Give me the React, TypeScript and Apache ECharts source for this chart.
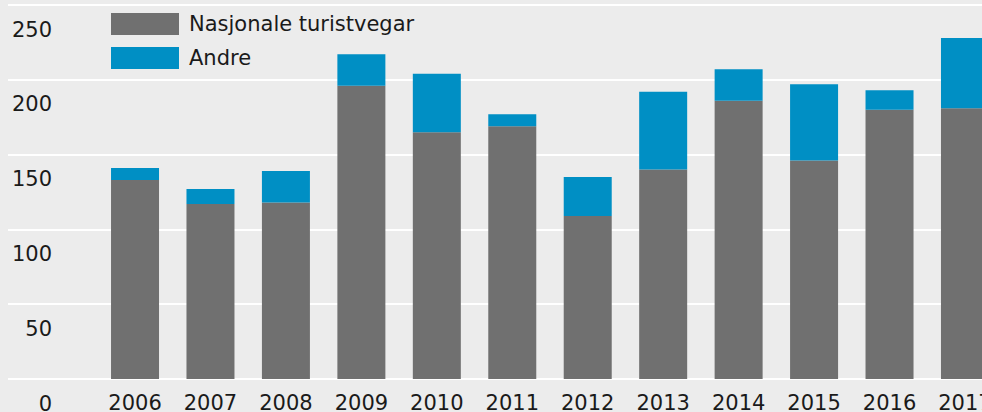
import React, { useEffect, useRef } from "react";
import * as echarts from "echarts";

const years = ["2006", "2007", "2008", "2009", "2010", "2011", "2012", "2013", "2014", "2015", "2016", "2017"];
const nasjonale = [133, 117, 118, 196, 165, 169, 109, 140, 186, 146, 180, 181];
const andre = [8, 10, 21, 21, 39, 8, 26, 52, 21, 51, 13, 47];
const yTicks = [0, 50, 100, 150, 200, 250];

const FONT = "DejaVu Sans";
const TEXT = "#1a1a1a";

export default function App() {
  const ref = useRef<HTMLDivElement>(null);
  useEffect(() => {
    if (!ref.current) return;
    const chart = echarts.init(ref.current, null, { renderer: "svg" });
    chart.setOption({
      animation: false,
      backgroundColor: "#ececec",
      legend: {
        orient: "vertical",
        left: 106,
        top: 8,
        itemWidth: 68,
        itemHeight: 22,
        itemGap: 12,
        icon: "rect",
        textStyle: { fontFamily: FONT, fontSize: 21, color: TEXT, padding: [0, 0, 0, 5] },
        data: ["Nasjonale turistvegar", "Andre"],
      },
      grid: [
        { left: 8, right: 0, top: 5, bottom: 33, outerBoundsMode: "none", containLabel: false },
        { left: 97.3, width: 905.4, top: 5, bottom: 33, outerBoundsMode: "none", containLabel: false },
      ],
      xAxis: [
        { type: "value", gridIndex: 0, show: false, min: 0, max: 1 },
        {
          type: "category",
          gridIndex: 1,
          data: years,
          axisLine: { show: false },
          axisTick: { show: false },
          axisLabel: { fontFamily: FONT, fontSize: 21, color: TEXT, margin: 13 },
        },
      ],
      yAxis: [
        {
          type: "value",
          gridIndex: 0,
          min: 0,
          max: 250,
          interval: 50,
          axisLine: { show: false },
          axisTick: { show: false },
          splitLine: { lineStyle: { color: "#ffffff", width: 2 } },
          axisLabel: {
            fontFamily: FONT,
            fontSize: 21,
            color: TEXT,
            margin: -44,
            align: "right",
            verticalAlign: "top",
            padding: [14, 0, 0, 0],
            formatter: (v: number) => (yTicks.includes(v) ? String(v) : ""),
          },
        },
        { type: "value", gridIndex: 1, min: 0, max: 250, interval: 50, show: false, splitLine: { show: false } },
      ],
      series: [
        {
          name: "Nasjonale turistvegar",
          type: "bar",
          stack: "total",
          xAxisIndex: 1,
          yAxisIndex: 1,
          barWidth: 48,
          itemStyle: { color: "#707070" },
          data: nasjonale,
        },
        {
          name: "Andre",
          type: "bar",
          stack: "total",
          xAxisIndex: 1,
          yAxisIndex: 1,
          barWidth: 48,
          itemStyle: { color: "#008fc4" },
          data: andre,
        },
      ],
    });
    return () => chart.dispose();
  }, []);
  return <div ref={ref} style={{ position: "fixed", left: 0, top: 0, width: 982, height: 412 }} />;
}
